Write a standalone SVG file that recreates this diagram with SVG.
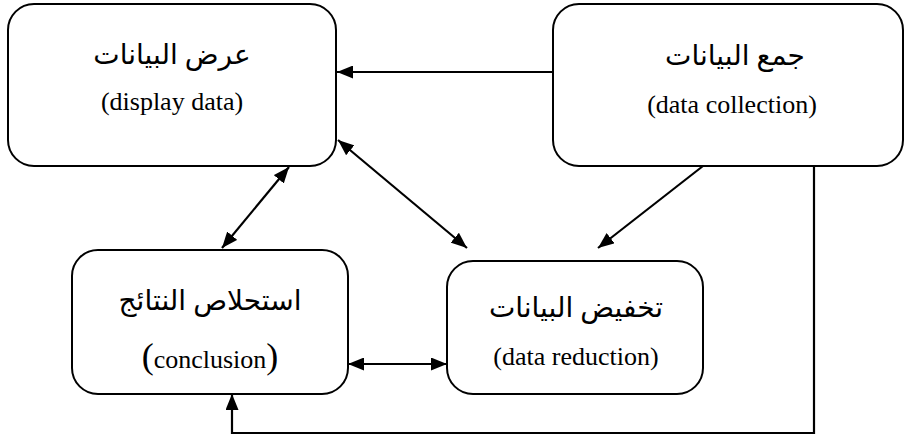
<svg xmlns="http://www.w3.org/2000/svg" width="907" height="439" viewBox="0 0 907 439">
<style>
.box{fill:#fff;stroke:#000;stroke-width:2}
.ar{font-family:"Liberation Serif","DejaVu Serif","DejaVu Sans",serif;font-size:28px;text-anchor:middle;fill:#000}
.en{font-family:"Liberation Serif",serif;font-size:26px;text-anchor:middle;fill:#000}
.con{fill:none;stroke:#000;stroke-width:2.2}
</style>
<defs>
<marker id="ah" viewBox="0 0 16 13" refX="16" refY="6.5" markerWidth="16" markerHeight="13" markerUnits="userSpaceOnUse" orient="auto-start-reverse">
<path d="M0,0 L16,6.5 L0,13 z" fill="#000"/>
</marker>
</defs>
<g id="display-data">
<rect class="box" x="8" y="4" width="328" height="162" rx="26"/>
<text class="ar" x="172" y="64">عرض البيانات</text>
<text class="en" x="172" y="110">(display data)</text>
</g>
<g id="data-collection">
<rect class="box" x="553" y="4" width="350" height="162" rx="26"/>
<text class="ar" x="735" y="65">جمع البيانات</text>
<text class="en" x="732" y="113">(data collection)</text>
</g>
<g id="conclusion">
<rect class="box" x="72" y="250" width="276" height="144" rx="26"/>
<text class="ar" x="210" y="310">استحلاص النتائج</text>
<text class="en" x="210" y="368"><tspan font-size="36">(</tspan>conclusion<tspan font-size="36">)</tspan></text>
</g>
<g id="data-reduction">
<rect class="box" x="447" y="261" width="256" height="133" rx="26"/>
<text class="ar" x="576" y="317">تخفيض البيانات</text>
<text class="en" x="576" y="365">(data reduction)</text>
</g>
<g id="connectors">
<path class="con" d="M553,72 L337,72" marker-end="url(#ah)"/>
<path class="con" d="M703,166 L598,248" marker-end="url(#ah)"/>
<path class="con" d="M338,140 L467,248" marker-start="url(#ah)" marker-end="url(#ah)"/>
<path class="con" d="M289,167 L222,248" marker-start="url(#ah)" marker-end="url(#ah)"/>
<path class="con" d="M348,364 L447,364" marker-start="url(#ah)" marker-end="url(#ah)"/>
<path class="con" d="M814,166 L814,433 L232,433 L232,394" marker-end="url(#ah)"/>
</g>
</svg>
